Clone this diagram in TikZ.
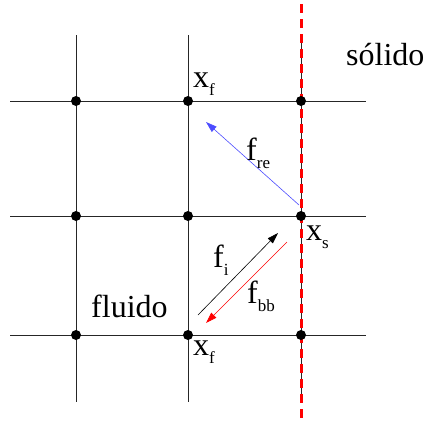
\documentclass[tikz,border=0pt]{standalone}
\usepackage{fontspec}
\setmainfont{Liberation Serif}
\usetikzlibrary{arrows.meta}
\newcommand{\lsub}[1]{\raisebox{-8pt}{\fontsize{17}{17}\selectfont #1}}
\begin{document}
\begin{tikzpicture}[x=1pt,y=-1pt,
  gridline/.style={line width=0.9pt,black!85},
  dot/.style={circle,fill=black,inner sep=0pt,minimum size=10pt},
  lbl/.style={inner sep=0pt,anchor=base west,font=\fontsize{32}{32}\selectfont},
  vec/.style={line width=0.6pt,-{Triangle[length=11pt,width=7pt]}},
  wall/.style={red,line width=3pt,dash pattern=on 9pt off 6pt}
]
\useasboundingbox (0,0) rectangle (425,421);
% grid lines
\foreach \x/\n in {76/a,188/b,301/c}{
  \coordinate (vt\n) at (\x,35);
  \coordinate (vb\n) at (\x,402);
  \draw[gridline] (vt\n) -- (vb\n);
}
\foreach \y/\n in {101/a,216/b,335/c}{
  \coordinate (hl\n) at (10,\y);
  \coordinate (hr\n) at (366,\y);
  \draw[gridline] (hl\n) -- (hr\n);
}
% wall
\coordinate (wt) at (301,4);
\coordinate (wb) at (301,421);
\draw[wall] (wt) -- (wb);
% dots
\foreach \x/\i in {76/1,188/2,301/3}{
  \foreach \y/\j in {101/1,216/2,335/3}{
    \node[dot] (n\i\j) at (\x,\y) {};
  }
}
% vectors
\coordinate (reS) at (299,205);
\coordinate (reE) at (206,122);
\draw[vec,blue!70] (reS) -- (reE);
\coordinate (iS) at (198,315);
\coordinate (iE) at (278,233);
\draw[vec,black] (iS) -- (iE);
\coordinate (bbS) at (287,242);
\coordinate (bbE) at (206,323);
\draw[vec,red] (bbS) -- (bbE);
% labels
\node[lbl] (xft) at (193,87) {x\lsub{f}};
\node[lbl] (xfb) at (193,355) {x\lsub{f}};
\node[lbl] (xs) at (306,240) {x\lsub{s}};
\node[lbl] (fre) at (246,160) {f\lsub{re}};
\node[lbl] (fi) at (213,267) {f\lsub{i}};
\node[lbl] (fbb) at (247,303) {f\lsub{bb}};
\node[lbl] (fluido) at (91,317) {fluido};
\node[lbl] (solido) at (346,65) {sólido};
\end{tikzpicture}
\end{document}
